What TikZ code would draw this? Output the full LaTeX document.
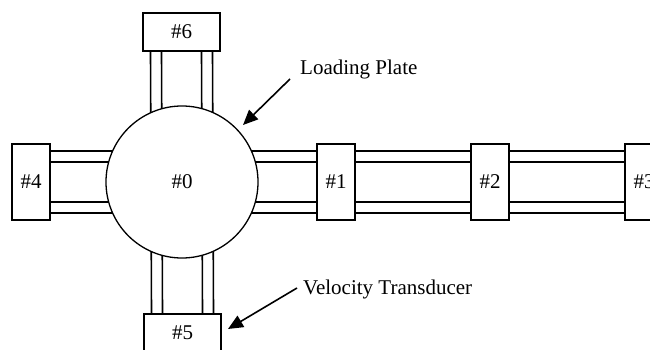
\documentclass[tikz,border=0pt]{standalone}
\usepackage{fontspec}
\setmainfont{Liberation Serif}
\usetikzlibrary{arrows.meta,calc}
\begin{document}
\begin{tikzpicture}[x=1pt,y=-1pt,
  sensor/.style={draw,line width=1.3pt,fill=white,minimum width=38pt,minimum height=76pt,inner sep=0pt,font=\fontsize{21}{25}\selectfont},
  vsensor/.style={sensor,minimum width=77pt,minimum height=38pt},
  beam/.style={line width=1.6pt},
  lbl/.style={font=\fontsize{21}{25}\selectfont,anchor=base west,inner sep=0pt},
  pointer/.style={line width=1.6pt,-{Triangle[length=15pt,width=13pt]}}]
\useasboundingbox (0,0) rectangle (650,350);
\coordinate (c) at (182,182);
\node[sensor] (s4) at (31,182) {\#4};
\node[sensor] (s1) at (336,182) {\#1};
\node[sensor] (s2) at (490,182) {\#2};
\node[sensor] (s3) at (644,182) {\#3};
\node[vsensor] (s6) at (181.5,32) {\#6};
\node[vsensor] (s5) at (182.5,333) {\#5};
\foreach \d in {-31,-20,20,31}{
  \draw[beam] ($(s4.east)+(0,\d)$) -- ($(c)+(0,\d)$);
  \draw[beam] ($(c)+(0,\d)$) -- ($(s1.west)+(0,\d)$);
  \draw[beam] ($(s1.east)+(0,\d)$) -- ($(s2.west)+(0,\d)$);
  \draw[beam] ($(s2.east)+(0,\d)$) -- ($(s3.west)+(0,\d)$);
  \draw[beam] ($(s6.south)+(\d,0)$) -- ($(c)+(\d,0)$);
  \draw[beam] ($(c)+(\d,0)$) -- ($(s5.north)+(\d,0)$);
}
\node[draw,circle,line width=1.3pt,fill=white,minimum size=152pt,inner sep=0pt,font=\fontsize{21}{25}\selectfont] (plate) at (c) {\#0};
\node[lbl] (lp) at (300,75) {Loading Plate};
\node[lbl] (vt) at (303,294) {Velocity Transducer};
\coordinate (lptip) at (243,125);
\coordinate (vttip) at (228,329);
\draw[pointer] ([xshift=-10pt,yshift=-4pt]lp.base west) -- (lptip);
\draw[pointer] ([xshift=-6pt,yshift=6pt]vt.base west) -- (vttip);
\end{tikzpicture}
\end{document}
